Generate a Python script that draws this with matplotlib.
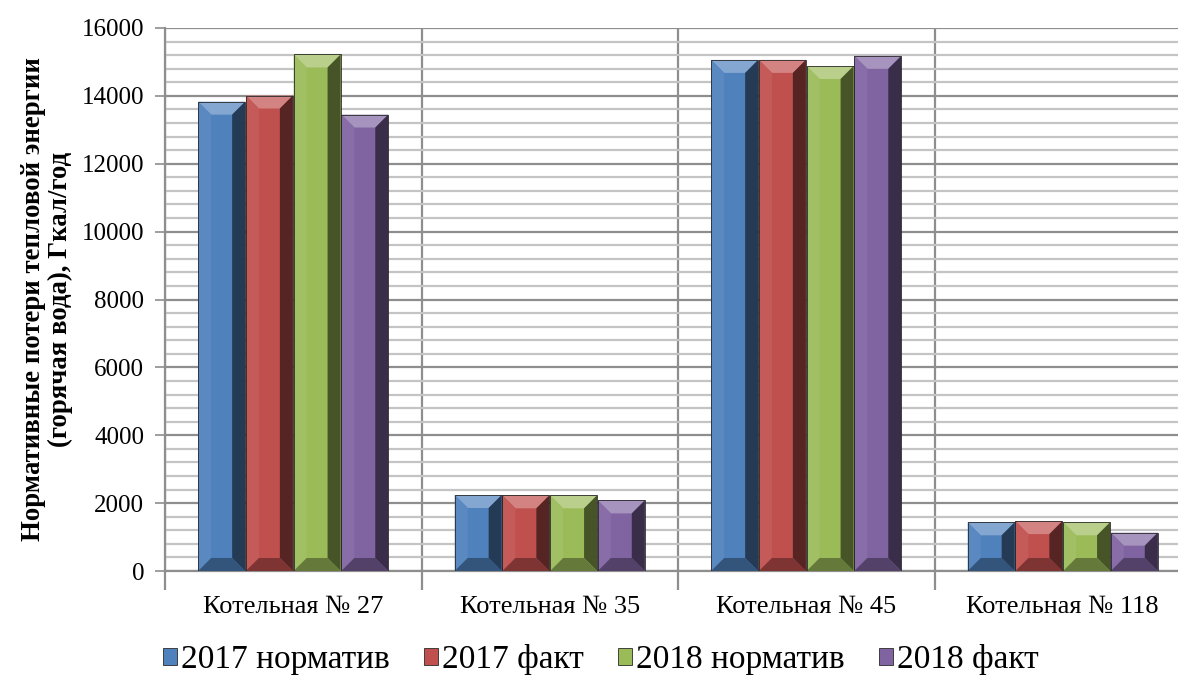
import numpy as np
import matplotlib
matplotlib.use('Agg')
from matplotlib import pyplot as plt
from matplotlib.patches import Polygon, Patch
from matplotlib.ticker import MultipleLocator, FixedLocator, NullFormatter
import matplotlib.colors as mcolors

plt.rcParams['font.family'] = ['Liberation Serif', 'DejaVu Serif']

categories = ['Котельная № 27', 'Котельная № 35', 'Котельная № 45', 'Котельная № 118']
series_names = ['2017 норматив', '2017 факт', '2018 норматив', '2018 факт']
norm_2017 = [13830, 2240, 15060, 1435]
fact_2017 = [14010, 2230, 15060, 1470]
norm_2018 = [15220, 2230, 14880, 1435]
fact_2018 = [13450, 2080, 15180, 1130]
series = [norm_2017, fact_2017, norm_2018, fact_2018]
colors = ['#4F81BD', '#C0504D', '#9BBB59', '#8064A2']

W, H = 1178, 675
fig = plt.figure(figsize=(W / 100, H / 100), dpi=100)
# axes runs a little past the right edge of the canvas
ax = fig.add_axes([165 / W, 104 / H, 1026 / W, 543 / H])

n = len(categories)
x = np.arange(n)
bar_w = 0.183
ax.set_xlim(-0.5, n - 0.5)
ax.set_ylim(0, 16000)

# pixel -> data scale for the bevel depth
px_x = (1026 / n)
px_y = 543 / 16000
bev = 13
bx = bev / px_x
by = bev / px_y


def shade(c, f):
    r = np.array(mcolors.to_rgb(c))
    if f > 0:
        r = r + (1 - r) * f
    else:
        r = r * (1 + f)
    return np.clip(r, 0, 1)


def bevel_bar(ax, xc, h, w, c):
    x0, x1 = xc - w / 2, xc + w / 2
    b = min(by, h / 2)
    ax.bar(xc, h, w, color=c, edgecolor='none', zorder=3)
    faces = [
        ([(x0, h), (x1, h), (x1 - bx, h - b), (x0 + bx, h - b)], shade(c, 0.30)),
        ([(x0, 0), (x0, h), (x0 + bx, h - b), (x0 + bx, b)], shade(c, 0.06)),
        ([(x1, 0), (x1, h), (x1 - bx, h - b), (x1 - bx, b)], shade(c, -0.55)),
        ([(x0, 0), (x1, 0), (x1 - bx, b), (x0 + bx, b)], shade(c, -0.35)),
    ]
    for pts, fc in faces:
        ax.add_patch(Polygon(pts, closed=True, facecolor=fc, edgecolor='none', zorder=4))
    ax.add_patch(Polygon([(x0, 0), (x0, h), (x1, h), (x1, 0)], closed=True,
                         fill=False, edgecolor='#2a2a2a', linewidth=0.6, zorder=5))


offsets = (np.arange(4) - 1.5) * (bar_w + 0.003)
for vals, c, off in zip(series, colors, offsets):
    for xi, v in zip(x, vals):
        bevel_bar(ax, xi + off, v, bar_w, c)

# horizontal grid: minor every 400, major every 2000
ax.yaxis.set_major_locator(MultipleLocator(2000))
ax.yaxis.set_minor_locator(MultipleLocator(400))
ax.grid(which='minor', axis='y', color='#c4c4c4', linewidth=1.6, zorder=0)
ax.grid(which='major', axis='y', color='#8e8e8e', linewidth=1.6, zorder=0)

# category separators as major x ticks, labels on minor ticks
ax.xaxis.set_major_locator(FixedLocator(np.arange(-0.5, n, 1.0)))
ax.xaxis.set_major_formatter(NullFormatter())
ax.xaxis.set_minor_locator(FixedLocator(x))
ax.set_xticklabels(categories, minor=True)
ax.grid(which='major', axis='x', color='#8e8e8e', linewidth=1.6, zorder=0)
ax.tick_params(axis='x', which='major', length=14, width=1.6, color='#8e8e8e', direction='out')
ax.tick_params(axis='x', which='minor', length=0, labelsize=19, pad=18)
ax.tick_params(axis='y', which='major', length=7, width=1.2, color='#8e8e8e', labelsize=18, pad=8)
ax.tick_params(axis='y', which='minor', length=0)

for s in ['top', 'right']:
    ax.spines[s].set_visible(False)
ax.spines['left'].set_color('#8e8e8e')
ax.spines['left'].set_linewidth(1.6)
ax.spines['bottom'].set_color('#8e8e8e')
ax.spines['bottom'].set_linewidth(1.6)

ax.set_ylabel('Нормативные потери тепловой энергии\n(горячая вода), Гкал/год',
              fontsize=19.3, fontweight='bold', labelpad=6, linespacing=1.1)

handles = [Patch(facecolor=c, edgecolor='#2a2a2a', linewidth=0.6) for c in colors]
fig.legend(handles, series_names, loc='lower center', bbox_to_anchor=(0.51, -0.045),
           ncol=4, frameon=False, fontsize=24, handlelength=0.4, handleheight=0.4,
           handletextpad=0.12, columnspacing=1.05)

fig.savefig('out.png', dpi=100)
